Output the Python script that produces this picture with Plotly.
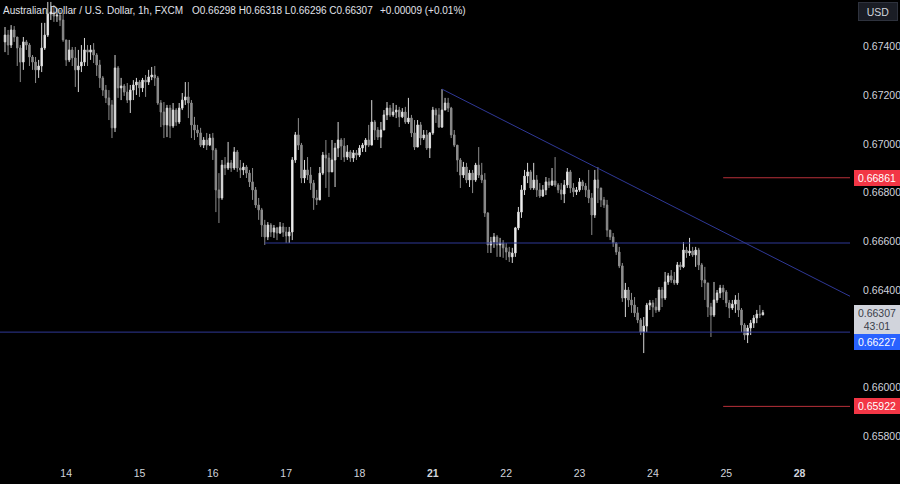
import plotly.graph_objects as go

# ---------------- data (AUD/USD 1h) ----------------
first_open = 0.67419
closes = [
0.67447,0.67406,0.67468,0.67439,0.67394,0.67336,0.67419,0.67406,0.67357,0.67336,
0.67304,0.67320,0.67394,0.67447,0.67534,0.67542,0.67525,0.67529,0.67509,0.67427,
0.67345,0.67386,0.67353,0.67304,0.67320,0.67336,0.67386,0.67377,0.67386,0.67365,
0.67324,0.67271,0.67221,0.67189,0.67160,0.67066,0.67312,0.67230,0.67238,0.67213,
0.67180,0.67221,0.67242,0.67254,0.67230,0.67262,0.67254,0.67275,0.67283,0.67271,
0.67168,0.67131,0.67078,0.67147,0.67074,0.67139,0.67090,0.67147,0.67180,0.67193,
0.67168,0.67078,0.67057,0.67045,0.66995,0.67016,0.66995,0.67024,0.66975,0.66811,
0.66778,0.66913,0.66901,0.66922,0.66901,0.66967,0.66901,0.66893,0.66905,0.66880,
0.66844,0.66811,0.66749,0.66729,0.66667,0.66618,0.66667,0.66638,0.66655,0.66634,
0.66659,0.66638,0.66622,0.66638,0.66934,0.67037,0.66995,0.66860,0.66893,0.66872,
0.66839,0.66778,0.66770,0.66880,0.66954,0.66942,0.66885,0.66934,0.66983,0.67016,
0.66991,0.66946,0.66967,0.66942,0.66963,0.66954,0.66983,0.66995,0.67016,0.66995,
0.67090,0.67057,0.67028,0.67057,0.67119,0.67147,0.67119,0.67131,0.67139,0.67111,
0.67131,0.67090,0.67106,0.67045,0.66987,0.67078,0.67024,0.67037,0.66983,0.67045,
0.67139,0.67119,0.67069,0.67139,0.67168,0.67147,0.67037,0.66995,0.66934,0.66872,
0.66905,0.66852,0.66880,0.66852,0.66913,0.66872,0.66852,0.66716,0.66585,0.66597,
0.66618,0.66585,0.66593,0.66573,0.66556,0.66536,0.66552,0.66655,0.66720,0.66811,
0.66868,0.66885,0.66819,0.66852,0.66811,0.66786,0.66811,0.66844,0.66831,0.66848,
0.66831,0.66811,0.66794,0.66831,0.66885,0.66819,0.66803,0.66811,0.66844,0.66827,
0.66811,0.66778,0.66708,0.66852,0.66819,0.66770,0.66749,0.66646,0.66618,0.66593,
0.66556,0.66499,0.66367,0.66400,0.66359,0.66338,0.66306,0.66277,0.66227,0.66252,
0.66338,0.66347,0.66330,0.66318,0.66400,0.66367,0.66433,0.66458,0.66441,0.66429,
0.66503,0.66495,0.66564,0.66552,0.66560,0.66544,0.66564,0.66503,0.66441,0.66429,
0.66330,0.66297,0.66359,0.66388,0.66408,0.66392,0.66347,0.66326,0.66342,0.66359,
0.66318,0.66256,0.66215,0.66244,0.66264,0.66285,0.66301,0.66298,0.66307]
highs = [
0.67480,0.67468,0.67488,0.67484,0.67439,0.67406,0.67439,0.67427,0.67414,0.67365,
0.67357,0.67345,0.67497,0.67497,0.67583,0.67583,0.67570,0.67558,0.67550,0.67538,
0.67427,0.67427,0.67398,0.67398,0.67386,0.67406,0.67435,0.67406,0.67406,0.67414,
0.67373,0.67345,0.67279,0.67242,0.67221,0.67180,0.67365,0.67320,0.67271,0.67246,
0.67250,0.67242,0.67262,0.67271,0.67262,0.67271,0.67283,0.67304,0.67316,0.67320,
0.67279,0.67180,0.67172,0.67160,0.67160,0.67168,0.67147,0.67168,0.67209,0.67254,
0.67254,0.67180,0.67111,0.67078,0.67066,0.67028,0.67045,0.67041,0.67045,0.66983,
0.66880,0.66934,0.66946,0.67008,0.66934,0.66987,0.66975,0.66934,0.66922,0.66913,
0.66893,0.66901,0.66823,0.66778,0.66737,0.66688,0.66679,0.66675,0.66667,0.66659,
0.66679,0.66675,0.66659,0.66659,0.66946,0.67049,0.67106,0.67004,0.66934,0.66946,
0.66905,0.66852,0.66811,0.66905,0.66967,0.67016,0.66963,0.67016,0.67004,0.67090,
0.67024,0.67024,0.66995,0.66975,0.66975,0.66975,0.66995,0.67004,0.67024,0.67078,
0.67180,0.67098,0.67069,0.67090,0.67139,0.67172,0.67160,0.67168,0.67160,0.67152,
0.67147,0.67152,0.67189,0.67119,0.67098,0.67098,0.67090,0.67057,0.67057,0.67049,
0.67152,0.67147,0.67147,0.67225,0.67189,0.67189,0.67152,0.67057,0.66995,0.66942,
0.66926,0.66922,0.66893,0.66893,0.66922,0.66987,0.66922,0.66880,0.66720,0.66618,
0.66634,0.66626,0.66614,0.66605,0.66593,0.66577,0.66573,0.66659,0.66741,0.66831,
0.66893,0.66922,0.66893,0.66922,0.66872,0.66839,0.66831,0.66864,0.66860,0.66901,
0.66946,0.66839,0.66839,0.66852,0.66901,0.66893,0.66839,0.66823,0.66860,0.66852,
0.66839,0.66893,0.66798,0.66893,0.66905,0.66819,0.66782,0.66770,0.66646,0.66634,
0.66597,0.66577,0.66511,0.66429,0.66412,0.66388,0.66371,0.66330,0.66285,0.66289,
0.66347,0.66359,0.66359,0.66367,0.66412,0.66412,0.66474,0.66470,0.66482,0.66474,
0.66515,0.66515,0.66597,0.66577,0.66614,0.66577,0.66577,0.66573,0.66511,0.66495,
0.66429,0.66347,0.66433,0.66400,0.66421,0.66421,0.66400,0.66359,0.66359,0.66379,
0.66388,0.66326,0.66264,0.66256,0.66277,0.66297,0.66318,0.66338,0.66318]
lows = [
0.67377,0.67365,0.67394,0.67419,0.67320,0.67254,0.67304,0.67386,0.67320,0.67304,
0.67250,0.67271,0.67295,0.67386,0.67439,0.67509,0.67501,0.67501,0.67484,0.67419,
0.67320,0.67336,0.67320,0.67234,0.67213,0.67295,0.67320,0.67320,0.67345,0.67332,
0.67279,0.67230,0.67197,0.67168,0.67098,0.67024,0.67049,0.67189,0.67180,0.67197,
0.67168,0.67127,0.67180,0.67201,0.67193,0.67213,0.67193,0.67242,0.67262,0.67238,
0.67160,0.67069,0.67024,0.67028,0.67024,0.67066,0.67074,0.67082,0.67139,0.67160,
0.67106,0.67024,0.67016,0.67028,0.66987,0.66983,0.66975,0.66991,0.66934,0.66720,
0.66675,0.66770,0.66872,0.66893,0.66885,0.66893,0.66885,0.66860,0.66872,0.66860,
0.66823,0.66770,0.66737,0.66688,0.66618,0.66585,0.66605,0.66618,0.66614,0.66605,
0.66630,0.66618,0.66593,0.66593,0.66605,0.66922,0.66975,0.66839,0.66839,0.66852,
0.66811,0.66729,0.66749,0.66770,0.66872,0.66819,0.66782,0.66885,0.66823,0.66946,
0.66934,0.66926,0.66934,0.66926,0.66926,0.66934,0.66946,0.66967,0.66967,0.66987,
0.66995,0.67016,0.67016,0.66983,0.67057,0.67098,0.67111,0.67111,0.67106,0.67069,
0.67106,0.67082,0.67082,0.67028,0.66975,0.66987,0.66995,0.67016,0.66975,0.66942,
0.67037,0.67086,0.67066,0.67066,0.67139,0.67131,0.67024,0.66987,0.66885,0.66819,
0.66860,0.66839,0.66823,0.66798,0.66844,0.66860,0.66839,0.66700,0.66552,0.66552,
0.66573,0.66536,0.66536,0.66532,0.66523,0.66515,0.66511,0.66536,0.66646,0.66696,
0.66790,0.66839,0.66811,0.66811,0.66782,0.66778,0.66782,0.66790,0.66819,0.66827,
0.66823,0.66798,0.66770,0.66757,0.66819,0.66798,0.66782,0.66790,0.66803,0.66811,
0.66782,0.66757,0.66626,0.66696,0.66757,0.66741,0.66737,0.66618,0.66605,0.66577,
0.66544,0.66490,0.66351,0.66289,0.66330,0.66306,0.66289,0.66264,0.66215,0.66141,
0.66227,0.66318,0.66289,0.66306,0.66310,0.66330,0.66359,0.66421,0.66429,0.66421,
0.66421,0.66482,0.66490,0.66532,0.66540,0.66536,0.66495,0.66482,0.66412,0.66359,
0.66289,0.66207,0.66289,0.66347,0.66367,0.66359,0.66330,0.66285,0.66318,0.66306,
0.66289,0.66227,0.66195,0.66182,0.66215,0.66244,0.66264,0.66285,0.66296]

day_ticks = [20, 44, 68, 92, 116, 140, 164, 188, 212, 236, 260]
day_labels = ["14", "15", "16", "17", "18", "<b>21</b>", "22", "23", "24", "25", "<b>28</b>"]
price_ticks = [0.658, 0.660, 0.664, 0.666, 0.668, 0.670, 0.672, 0.674]

# drawn levels
trend_pts = [(143, 0.67225), (194, 0.66900)]
support_level = (85, 0.66593)
base_level = 0.66227
target_levels = [(235, 0.66861), (235, 0.65922)]
last_price = 0.66307
countdown = "43:01"
header = "Australian Dollar / U.S. Dollar, 1h, FXCM"
ohlc_parts = ["O0.66298", "H0.66318", "L0.66296", "C0.66307"]
change_text = "+0.00009 (+0.01%)"

# ---------------- figure ----------------
N = len(closes)
xs = list(range(N))
opens = [first_open] + closes[:-1]
highs = [max(h, o, c) for h, o, c in zip(highs, opens, closes)]
lows = [min(l, o, c) for l, o, c in zip(lows, opens, closes)]

X0, X1 = -1.64, 276.5
Y0, Y1 = 0.65710, 0.67591
PLOT_W = 850
FONT = "Liberation Sans, Arial, sans-serif"
TXT = "#d1d4dc"
LINE_BLUE = "#2f3896"
RED = "#f23645"

fig = go.Figure(go.Candlestick(
    x=xs, open=opens, high=highs, low=lows, close=closes,
    increasing=dict(line=dict(color="#d8d8d8", width=1), fillcolor="#ffffff"),
    decreasing=dict(line=dict(color="#8c8c8c", width=1), fillcolor="#8c8c8c"),
    whiskerwidth=0, hoverinfo="skip", showlegend=False,
))

(tx0, ty0), (tx1, ty1) = trend_pts
slope = (ty1 - ty0) / (tx1 - tx0)
shapes = [
    dict(type="line", x0=tx0, y0=ty0, x1=X1, y1=ty0 + slope * (X1 - tx0),
         line=dict(color=LINE_BLUE, width=1)),
    dict(type="line", x0=support_level[0], y0=support_level[1], x1=X1, y1=support_level[1],
         line=dict(color=LINE_BLUE, width=1)),
    dict(type="line", x0=X0, y0=base_level, x1=X1, y1=base_level,
         line=dict(color=LINE_BLUE, width=1)),
]
for xs0, lvl in target_levels:
    shapes.append(dict(type="line", x0=xs0, y0=lvl, x1=X1, y1=lvl,
                       line=dict(color="#b8303a", width=1)))

HEAD_FONT = dict(family=FONT, size=10, color="#e0e3eb")
ann = []
ann.append(dict(x=1 / PLOT_W, xref="paper", xanchor="left", y=1, yref="paper", yanchor="top",
                yshift=-3, text=header, showarrow=False, font=HEAD_FONT))
ann.append(dict(x=190 / PLOT_W, xref="paper", xanchor="left", y=1, yref="paper", yanchor="top",
                yshift=-3, text=" ".join(ohlc_parts), showarrow=False, font=HEAD_FONT))
ann.append(dict(x=378 / PLOT_W, xref="paper", xanchor="left", y=1, yref="paper", yanchor="top",
                yshift=-3, text=change_text, showarrow=False, font=HEAD_FONT))

def tag(price, bg, fg, text, yshift=0, height=14, yanchor="middle"):
    return dict(x=1, xref="paper", xanchor="left", xshift=4, y=price, yref="y",
                yanchor=yanchor, yshift=yshift, text=text, showarrow=False,
                bgcolor=bg, borderpad=1, borderwidth=0, width=44, height=height,
                align="center", font=dict(family=FONT, size=10.5, color=fg))

for _, lvl in target_levels:
    ann.append(tag(lvl, RED, "#ffffff", f"{lvl:.5f}"))
ann.append(tag(last_price, "#d1d4dc", "#3a3e4a", f"{last_price:.5f}<br>{countdown}",
               yshift=8, height=27, yanchor="top"))
ann.append(tag(base_level, "#2962ff", "#ffffff", f"{base_level:.5f}", yshift=-10))
ann.append(dict(x=1, xref="paper", xanchor="left", xshift=8, y=1, yref="paper", yanchor="top",
                yshift=-2, text="USD", showarrow=False, bgcolor="#1a1d25",
                bordercolor="#2e323d", borderwidth=1, borderpad=2, width=34, height=13,
                font=dict(family=FONT, size=10.5, color=TXT)))

fig.update_layout(
    width=900, height=484,
    paper_bgcolor="#000000", plot_bgcolor="#000000",
    margin=dict(l=0, r=50, t=0, b=26),
    shapes=shapes, annotations=ann, showlegend=False,
    xaxis=dict(range=[X0, X1], tickvals=day_ticks, ticktext=day_labels,
               showgrid=False, zeroline=False, showline=False,
               ticks="outside", ticklen=5, tickcolor="#000000",
               tickfont=dict(family=FONT, size=10.5, color=TXT),
               rangeslider=dict(visible=False), fixedrange=True),
    yaxis=dict(range=[Y0, Y1], side="right", tickvals=price_ticks,
               ticktext=[f"{v:.5f}" for v in price_ticks],
               showgrid=False, zeroline=False, showline=False,
               ticks="outside", ticklen=10, tickcolor="#000000",
               tickfont=dict(family=FONT, size=10.5, color=TXT), fixedrange=True),
)

fig.write_html("out.html", config={"displayModeBar": False},
               post_script="document.body.style.margin='0';document.body.style.background='#000';")
